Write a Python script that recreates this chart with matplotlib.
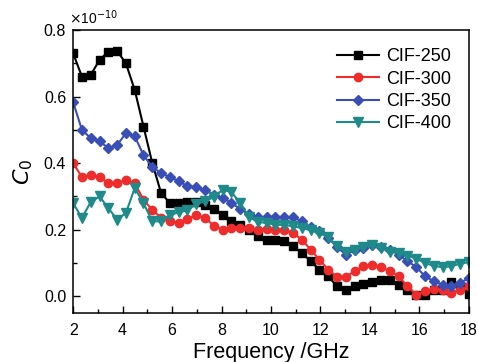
import numpy as np
import matplotlib.pyplot as plt

plt.rcParams['font.family'] = ['Liberation Sans', 'DejaVu Sans']

# frequency grid (GHz), 46 marked points from 2 to 18
freq = np.linspace(2, 18, 46)

# C0 in units of 1e-10
cif250 = [0.73, 0.66, 0.665, 0.71, 0.735, 0.737, 0.70, 0.62, 0.51, 0.40,
          0.31, 0.28, 0.28, 0.283, 0.283, 0.275, 0.262, 0.244, 0.226, 0.214,
          0.199, 0.18, 0.17, 0.168, 0.165, 0.15, 0.13, 0.105, 0.08, 0.06,
          0.03, 0.02, 0.03, 0.036, 0.042, 0.048, 0.05, 0.033, 0.02, 0.005,
          0.005, 0.018, 0.02, 0.042, 0.03, 0.006]
cif300 = [0.40, 0.358, 0.364, 0.358, 0.34, 0.34, 0.349, 0.34, 0.29, 0.259,
          0.236, 0.226, 0.22, 0.233, 0.244, 0.235, 0.212, 0.20, 0.205, 0.205,
          0.204, 0.20, 0.202, 0.20, 0.20, 0.19, 0.17, 0.14, 0.11, 0.08,
          0.058, 0.058, 0.075, 0.09, 0.093, 0.087, 0.076, 0.06, 0.03, 0.005,
          0.015, 0.022, 0.018, 0.01, 0.02, 0.03]
cif350 = [0.583, 0.50, 0.475, 0.466, 0.445, 0.454, 0.49, 0.481, 0.424, 0.388,
          0.37, 0.358, 0.346, 0.33, 0.328, 0.318, 0.305, 0.295, 0.28, 0.262,
          0.246, 0.238, 0.238, 0.238, 0.238, 0.238, 0.225, 0.207, 0.195, 0.175,
          0.148, 0.125, 0.138, 0.144, 0.155, 0.148, 0.14, 0.125, 0.105, 0.088,
          0.06, 0.045, 0.035, 0.03, 0.04, 0.055]
cif400 = [0.28, 0.235, 0.283, 0.30, 0.265, 0.23, 0.25, 0.325, 0.28, 0.225,
          0.225, 0.244, 0.252, 0.258, 0.277, 0.285, 0.298, 0.32, 0.313, 0.28,
          0.238, 0.223, 0.22, 0.215, 0.214, 0.21, 0.205, 0.198, 0.19, 0.177,
          0.15, 0.133, 0.14, 0.148, 0.153, 0.144, 0.134, 0.13, 0.122, 0.113,
          0.1, 0.091, 0.087, 0.09, 0.098, 0.102]

series = [
    ('CIF-250', cif250, 'black', 's', 5.5),
    ('CIF-300', cif300, '#EE2C2C', 'o', 6),
    ('CIF-350', cif350, '#3A4FB5', 'D', 5.5),
    ('CIF-400', cif400, '#1E8A8A', 'v', 6.5),
]

fig = plt.figure(figsize=(4.78, 3.62), dpi=100)
ax = fig.add_axes([0.153, 0.135, 0.828, 0.782])

for name, vals, col, mk, ms in series:
    ax.plot(freq, vals, color=col, marker=mk, markersize=ms, lw=1.5, label=name)

ax.set_xlim(2, 18)
ax.set_ylim(-0.051, 0.8)
ax.set_xticks(np.arange(2, 19, 2))
ax.set_xticks(np.arange(3, 18, 2), minor=True)
ax.set_yticks([0.0, 0.2, 0.4, 0.6, 0.8])
ax.set_yticks([0.1, 0.3, 0.5, 0.7], minor=True)
ax.yaxis.set_major_formatter(plt.FormatStrFormatter('%.1f'))
ax.tick_params(which='both', direction='in', top=False, right=False, labelsize=11.5)
ax.tick_params(axis='x', pad=7)
ax.tick_params(axis='y', pad=5)
ax.tick_params(which='major', length=5, width=1)
ax.tick_params(which='minor', length=3, width=1)
for sp in ax.spines.values():
    sp.set_linewidth(1.1)

ax.set_xlabel('Frequency /GHz', fontsize=15.5, labelpad=3)
ax.set_ylabel('$C_0$', fontsize=16, labelpad=6)
ax.text(-0.01, 1.01, r'$\times$10$^{-10}$', transform=ax.transAxes,
        fontsize=10, ha='left', va='bottom')

ax.legend(loc='upper right', frameon=False, fontsize=13, handlelength=2.3,
          handletextpad=0.4, labelspacing=0.3, borderaxespad=0.6)

fig.savefig('out.png', dpi=100)
